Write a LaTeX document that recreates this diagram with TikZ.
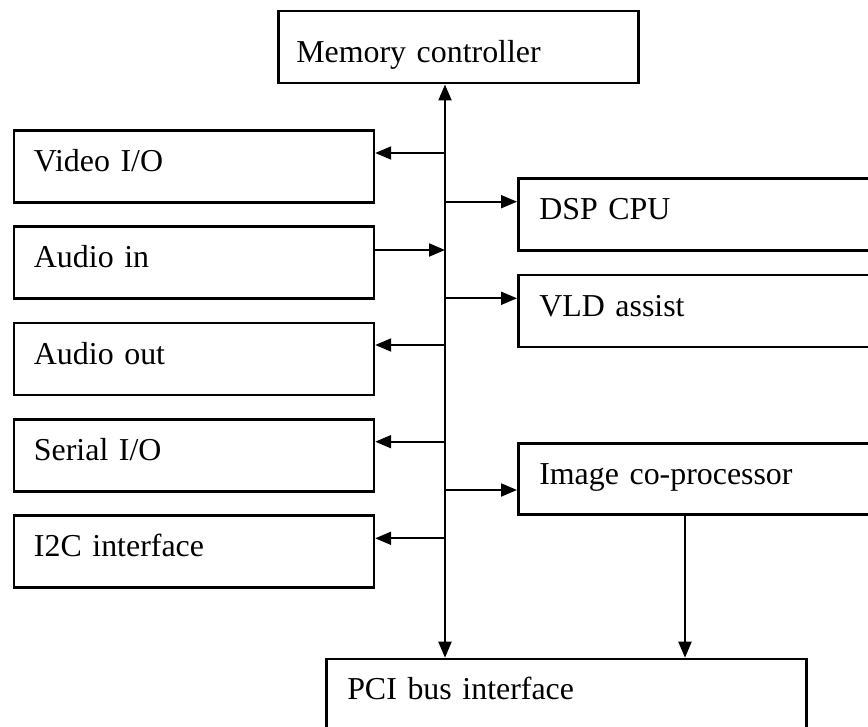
\documentclass[tikz,border=0pt]{standalone}
\usepackage{fontspec}
\setmainfont{Liberation Serif}
\usetikzlibrary{arrows.meta}
\begin{document}
\begin{tikzpicture}[x=1pt,y=-1pt,
  every node/.style={font=\fontsize{31.9}{38}\selectfont},
  blk/.style={draw, line width=2.5pt, anchor=north west, align=left,
    inner ysep=0pt, inner xsep=20pt, text height=41pt, text depth=31pt},
  tip/.tip={Triangle[length=16pt,width=13pt]},
  link/.style={line width=2pt, -tip},
  dlink/.style={line width=2pt, tip-tip}]
\useasboundingbox (0,0) rectangle (868,727);
\clip (0,0) rectangle (868,727);

% central memory controller and PCI interface
\node[blk, inner xsep=18pt, text width=324pt, text height=51pt, text depth=21pt] (mem) at (277,10) {Memory controller};
\node[blk, inner xsep=21pt, text width=438pt, text depth=79pt] (pci) at (325,657.7) {PCI bus interface};

% peripherals on the left
\node[blk, text width=320pt] (vio) at (12.7,129.5) {Video I/O};
\node[blk, text width=320pt] (ain) at (12.7,225.5) {Audio in};
\node[blk, text width=320pt] (aout) at (12.7,322) {Audio out};
\node[blk, text width=320pt] (sio) at (12.7,418) {Serial I/O};
\node[blk, text width=320pt] (i2c) at (12.7,514) {I2C interface};

% processing units on the right
\node[blk, inner xsep=21pt, text width=340pt] (dsp) at (517,177.5) {DSP CPU};
\node[blk, inner xsep=21pt, text width=340pt] (vld) at (517,274) {VLD assist};
\node[blk, inner xsep=21pt, text width=340pt, text depth=30pt] (img) at (517,442) {Image co-processor};

% bus taps
\coordinate (busx) at (445,0);
\coordinate (tVio) at (445,153);
\coordinate (tAin) at (445,250);
\coordinate (tAout) at (445,345);
\coordinate (tSio) at (445,441.7);
\coordinate (tI2c) at (445,538.3);
\coordinate (tDsp) at (445,201.7);
\coordinate (tVld) at (445,298.3);
\coordinate (tImg) at (445,490);
\coordinate (imgx) at (685,0);

% main bus
\draw[dlink] (mem.south -| busx) -- (pci.north -| busx);

% connections
\draw[link] (tVio) -- (tVio -| vio.east);
\draw[link] (tAin -| ain.east) -- (tAin);
\draw[link] (tAout) -- (tAout -| aout.east);
\draw[link] (tSio) -- (tSio -| sio.east);
\draw[link] (tI2c) -- (tI2c -| i2c.east);
\draw[link] (tDsp) -- (tDsp -| dsp.west);
\draw[link] (tVld) -- (tVld -| vld.west);
\draw[link] (tImg) -- (tImg -| img.west);
\draw[link] (img.south -| imgx) -- (pci.north -| imgx);
\end{tikzpicture}
\end{document}
